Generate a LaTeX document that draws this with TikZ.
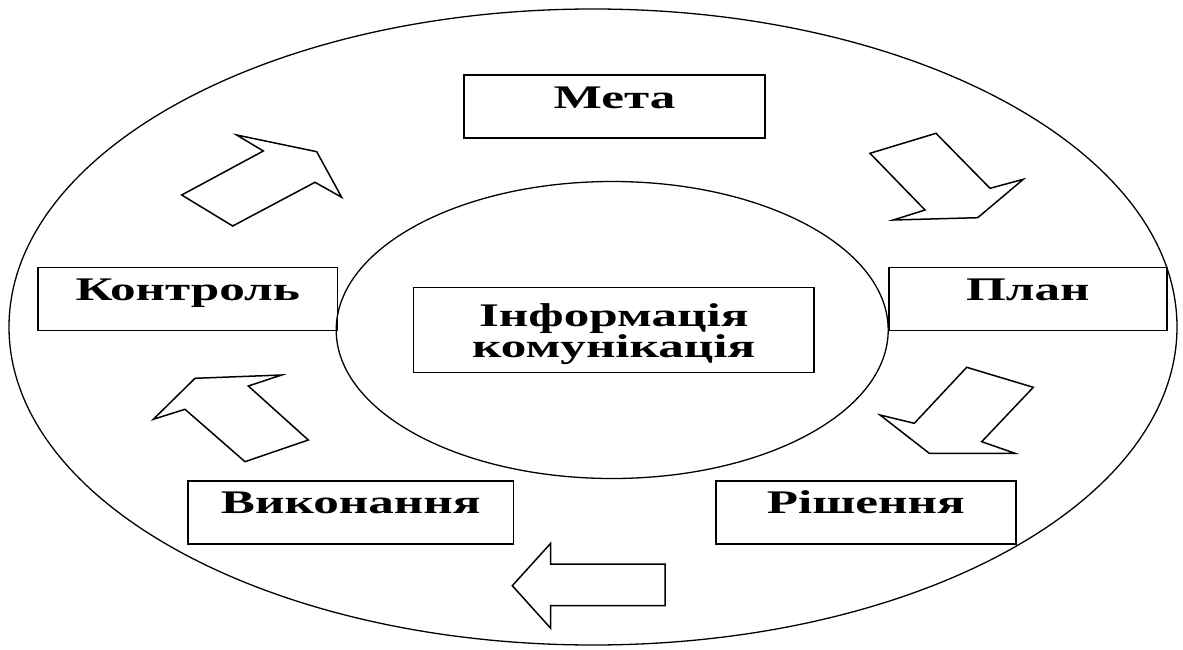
\documentclass[tikz,border=0pt]{standalone}
\usepackage{fontspec}
\setmainfont{Liberation Serif}[FakeStretch=1.55]
\begin{document}
\begin{tikzpicture}[x=1pt,y=-1pt,
  stage/.style={draw, line width=1.5pt, rectangle, anchor=north west, inner sep=0pt,
    minimum height=63pt, text height=33pt, text depth=30pt,
    font=\fontsize{33}{33}\selectfont\bfseries},
  ring/.style={line width=1.3pt},
  blockarrow/.style={draw, line width=1.5pt, fill=white, line join=miter}]
  \useasboundingbox (0,0) rectangle (1183,650);
  % outer and inner rings
  \draw[ring] (593,327) ellipse [x radius=584, y radius=318];
  \draw[ring] (612.2,330) ellipse [x radius=276, y radius=148.5];
  % stages of the cycle
  \node[stage, minimum width=301pt] (meta) at (463.3,74.3) {Мета};
  \node[stage, minimum width=277.7pt] (plan) at (888.3,266.7) {План};
  \node[stage, minimum width=300pt] (rish) at (715,480) {Рішення};
  \node[stage, minimum width=325.4pt] (vyk) at (187.3,480) {Виконання};
  \node[stage, minimum width=299.4pt] (kontr) at (37.3,266.7) {Контроль};
  % centre; the strut on the first line lowers both lines a little
  \node[draw, line width=1.5pt, anchor=north west, inner sep=0pt,
    minimum width=400.6pt, minimum height=85pt, align=center,
    font=\fontsize{33}{27}\selectfont\bfseries] (info) at (412.7,286.7)
    {\rule{0pt}{32pt}Інформація\\комунікація};
  % block arrows between the stages
  \draw[blockarrow] (236.7,135) -- (263.3,151) -- (181.7,195) -- (232.7,226) -- (315,182.3) -- (341.7,197.3) -- (316.7,151.7) -- cycle;
  \draw[blockarrow] (870,153.3) -- (936,133.3) -- (990,188.3) -- (1023.3,179.3) -- (977.7,217.7) -- (893.3,220) -- (925,210) -- cycle;
  \draw[blockarrow] (966.7,367.3) -- (1033.3,387.3) -- (981.7,441.7) -- (1015,453.3) -- (929.3,453.3) -- (880,415) -- (914.3,423.3) -- cycle;
  \draw[blockarrow] (512.3,585.7) -- (550.7,543.3) -- (550.7,564) -- (665,564) -- (665,605.7) -- (550.7,605.7) -- (550.7,628.3) -- cycle;
  \draw[blockarrow] (195,378.3) -- (281.7,375) -- (248.3,386) -- (308.3,440) -- (245,461.7) -- (185,409.3) -- (153.3,419.3) -- cycle;
\end{tikzpicture}
\end{document}
